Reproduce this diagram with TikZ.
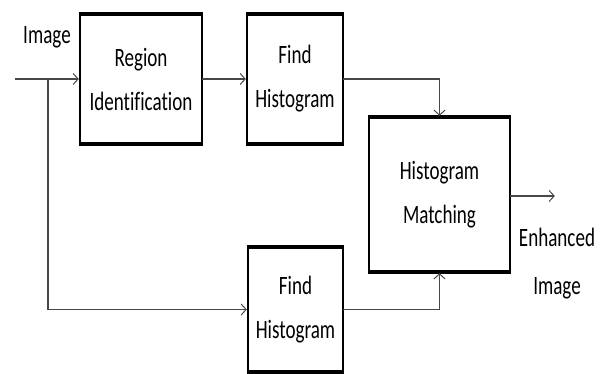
\documentclass[tikz,border=0pt]{standalone}
\usepackage{fontspec}
\setmainfont{Carlito}[FakeStretch=0.72,Ligatures=NoCommon]
\usetikzlibrary{arrows.meta}
\begin{document}
\begin{tikzpicture}[x=1pt,y=-1pt,
  blk/.style={draw=black, line width=2.2pt, fill=white, inner sep=0pt, outer sep=0pt, align=center,
    font=\fontsize{26.5}{44}\selectfont},
  thk/.style={line width=4.2pt, draw=black},
  conn/.style={draw=black!72, line width=1.3pt, shorten >=1.2pt,
    -{Straight Barb[length=5pt,width=11pt,line width=1pt]}},
  lbl/.style={inner sep=0pt, align=center, font=\fontsize{26.5}{48}\selectfont}]
\useasboundingbox (0,0) rectangle (604,374);

\node[blk, minimum width=122pt, minimum height=130pt] (ri) at (141,79) {Region\\Identification};
\node[blk, minimum width=96pt, minimum height=130pt] (fh1) at (295,79) {Find\\Histogram};
\node[blk, minimum width=141pt, minimum height=155pt] (hm) at (439.5,194.5) {Histogram\\Matching};
\node[blk, minimum width=95pt, minimum height=125pt] (fh2) at (295.5,309.5) {Find\\Histogram};

\foreach \n in {ri,fh1,hm,fh2}{
  \draw[thk] ([xshift=-1.1pt]\n.north west) -- ([xshift=1.1pt]\n.north east);
  \draw[thk] ([xshift=-1.1pt]\n.south west) -- ([xshift=1.1pt]\n.south east);
}

\node[lbl] (in) at (47,37) {Image};
\node[lbl] (out) at (557,264) {Enhanced\\Image};

\coordinate (start) at (15,79);
\coordinate (br) at (48,79);
\coordinate (tip) at (556,196);

\draw[conn] (start) -- (ri.west);
\draw[conn] (br) |- (fh2.west);
\draw[conn] (ri.east) -- (fh1.west);
\draw[conn] (fh1.east) -| (hm.north);
\draw[conn] (fh2.east) -| (hm.south);
\draw[conn] (hm.east |- tip) -- (tip);
\end{tikzpicture}
\end{document}
